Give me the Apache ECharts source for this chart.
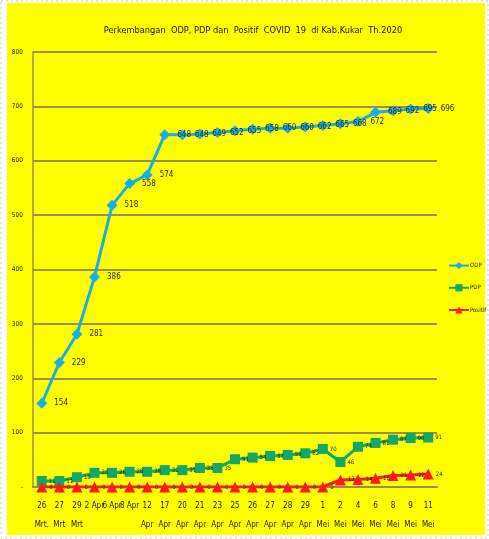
<!DOCTYPE html>
<html>
<head>
<meta charset="utf-8">
<script src="https://cdn.jsdelivr.net/npm/echarts@6/dist/echarts.min.js"></script>
<style>
html,body{margin:0;padding:0;background:#fff;}
#chart{width:489px;height:539px;}
</style>
</head>
<body>
<div id="chart"></div>
<script>
const categories = ["26\nMrt.", "27\nMrt", "29\nMrt", "2 Apr", "6 Apr", "8 Apr", "12\nApr", "17\nApr", "20\nApr", "21\nApr", "23\nApr", "25\nApr", "26\nApr", "27\nApr", "28\nApr", "29\nApr", "1\nMei", "2\nMei", "4\nMei", "6\nMei", "8\nMei", "9\nMei", "11\nMei"];
const odp = [154, 229, 281, 386, 518, 558, 574, 648, 648, 649, 652, 655, 658, 660, 660, 662, 665, 668, 672, 689, 692, 695, 696];
const pdp = [11, 11, 18, 26, 26, 28, 28, 31, 31, 35, 35, 51, 54, 57, 59, 62, 70, 46, 74, 81, 87, 90, 91];
const positif = [0, 0, 0, 0, 0, 0, 0, 0, 0, 0, 0, 0, 0, 0, 0, 0, 0, 13, 14, 16, 21, 22, 24];
const yTicks = ["-", "100", "200", "300", "400", "500", "600", "700", "800"];
const title = "Perkembangan  ODP, PDP dan  Positif  COVID  19  di Kab.Kukar  Th.2020";

const FONT = "'DejaVu Sans Condensed', 'Liberation Sans Narrow', 'Liberation Sans', Arial, sans-serif";
const chart = echarts.init(document.getElementById('chart'));
const gridColor = '#9C8E52';
const lblStyle = {show: true, position: 'right', distance: 4, fontSize: 8, color: '#2b2b10', fontFamily: FONT};

chart.setOption({
  backgroundColor: '#fff',
  animation: false,
  graphic: [
    {type: 'rect', shape: {x: 1, y: 1, width: 487, height: 537}, style: {fill: 'none', stroke: '#c9c9c9', lineDash: [2, 3], lineWidth: 1}, z: -2},
    {type: 'rect', shape: {x: 7, y: 3, width: 478, height: 532}, style: {fill: '#FFFF00'}, z: -1}
  ],
  title: {
    text: title, left: 248, top: 21, textAlign: 'center',
    textStyle: {fontFamily: FONT, fontSize: 9.2, fontWeight: 'normal', color: '#141400'}
  },
  legend: {
    orient: 'vertical', left: 443, top: 257, itemGap: 15, itemWidth: 20, itemHeight: 9,
    textStyle: {fontFamily: FONT, fontSize: 6, color: '#1a1a00', padding: [0, 0, 0, -4]},
    data: ['ODP', 'PDP', 'Positif']
  },
  grid: {left: 33, right: 52, top: 52, bottom: 52, containLabel: false},
  xAxis: {
    type: 'category', data: categories, boundaryGap: true,
    axisLine: {lineStyle: {color: gridColor, width: 2}},
    axisTick: {show: false},
    axisLabel: {interval: 0, fontFamily: FONT, fontSize: 8, lineHeight: 19, color: '#1a1a00', margin: 9}
  },
  yAxis: {
    type: 'value', min: 0, max: 800, interval: 100,
    axisLine: {show: true, lineStyle: {color: gridColor, width: 1.5}},
    axisTick: {show: false},
    splitLine: {lineStyle: {color: gridColor, width: 2}},
    axisLabel: {fontFamily: FONT, fontSize: 6.5, color: '#1a1a00', margin: 10,
      formatter: function (v) { return yTicks[Math.round(v / 100)]; }}
  },
  series: [
    {name: 'ODP', type: 'line', data: odp, symbol: 'diamond', symbolSize: 11,
     lineStyle: {color: '#1AAEE8', width: 3}, itemStyle: {color: '#1AAEE8'},
     label: Object.assign({}, lblStyle, {fontSize: 8, distance: 7}), z: 3},
    {name: 'PDP', type: 'line', data: pdp, symbol: 'rect', symbolSize: 10,
     lineStyle: {color: '#13A86A', width: 3}, itemStyle: {color: '#13A86A'},
     label: Object.assign({}, lblStyle, {fontSize: 6, distance: 2}), z: 2},
    {name: 'Positif', type: 'line', data: positif, symbol: 'triangle', symbolSize: 11,
     lineStyle: {color: '#FF1A1A', width: 3}, itemStyle: {color: '#FF1A1A'},
     label: Object.assign({}, lblStyle, {fontSize: 6, distance: 2}), z: 4}
  ]
});
</script>
</body>
</html>
